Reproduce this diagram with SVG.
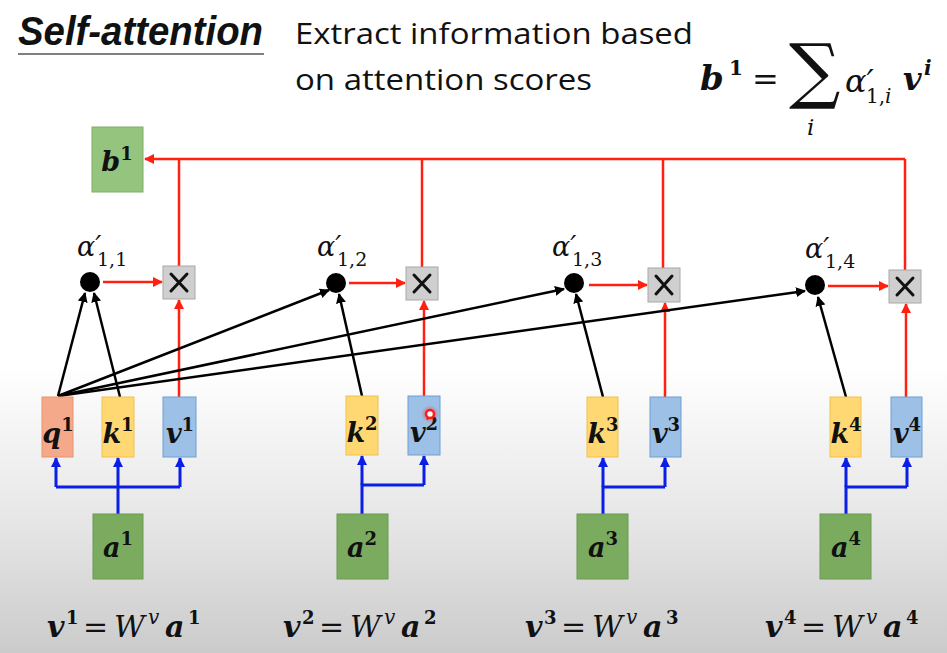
<svg xmlns="http://www.w3.org/2000/svg" width="947" height="653" viewBox="0 0 947 653">
<defs>
<linearGradient id="bg" x1="0" y1="0" x2="0" y2="1">
<stop offset="0" stop-color="#ffffff"/>
<stop offset="0.56" stop-color="#ffffff"/>
<stop offset="0.8" stop-color="#e6e6e6"/>
<stop offset="1" stop-color="#cbcbcb"/>
</linearGradient>
<marker id="ab" viewBox="0 0 10 10" refX="9" refY="5" markerWidth="10" markerHeight="10" markerUnits="userSpaceOnUse" orient="auto"><path d="M0,0 L10,5 L0,10 Z" fill="#000"/></marker>
<marker id="ar" viewBox="0 0 10 10" refX="9" refY="5" markerWidth="10" markerHeight="10" markerUnits="userSpaceOnUse" orient="auto"><path d="M0,0 L10,5 L0,10 Z" fill="#ff2010"/></marker>
<marker id="abl" viewBox="0 0 10 10" refX="9" refY="5" markerWidth="10" markerHeight="10" markerUnits="userSpaceOnUse" orient="auto"><path d="M0,0 L10,5 L0,10 Z" fill="#0a1ee6"/></marker>
<radialGradient id="glow"><stop offset="0" stop-color="#ff3030" stop-opacity="0.8"/><stop offset="1" stop-color="#ff3030" stop-opacity="0"/></radialGradient>
</defs>
<style>
.math{font-family:"DejaVu Serif","Liberation Serif",serif;fill:#111}
.bi{font-weight:bold;font-style:italic}
.it{font-style:italic}
.b{font-weight:bold}
.lbl{font-size:27px;text-anchor:middle}
.sup{font-size:18px;font-weight:bold;font-style:normal}
.q{fill:#f4a98a;stroke:#e8936a;stroke-width:1}
.k{fill:#ffd873;stroke:#f0c24a;stroke-width:1}
.v{fill:#9dc0e6;stroke:#6f9fd3;stroke-width:1}
.g1{fill:#94c47e;stroke:#7fb066;stroke-width:1}
.g2{fill:#7bab5f;stroke:#6a9a50;stroke-width:1}
.xb{fill:#cfcfcf;stroke:#a8a8a8;stroke-width:1}
.xm{stroke:#111;stroke-width:3;stroke-linecap:round}
.red{stroke:#ff2010;stroke-width:2.5;fill:none}
.blk{stroke:#000;stroke-width:2.5;fill:none}
.blu{stroke:#0a1ee6;stroke-width:3;fill:none}
.sans{font-family:"Open Sans","Liberation Sans",sans-serif;fill:#111}
.al{font-size:27px}
.sub{font-size:19px;font-style:normal}
</style>
<rect x="0" y="0" width="947" height="653" fill="url(#bg)"/>

<g id="title">
<text x="18" y="45" font-family="Liberation Sans, Arial, sans-serif" font-size="40" font-weight="bold" font-style="italic" fill="#111" textLength="245" lengthAdjust="spacingAndGlyphs">Self-attention</text>
<line x1="18" y1="54" x2="264" y2="54" stroke="#555" stroke-width="1.5"/>
</g>
<g id="subtitle">
<text class="sans" x="295" y="44" font-size="29" textLength="398" lengthAdjust="spacingAndGlyphs">Extract information based</text>
<text class="sans" x="295" y="90" font-size="29" textLength="297" lengthAdjust="spacingAndGlyphs">on attention scores</text>
</g>
<g id="formula" class="math">
<text x="700" y="90" font-size="34" class="bi">b</text>
<text x="729" y="75" font-size="20" class="b">1</text>
<text x="752" y="90" font-size="32">=</text>
<text x="789" y="95" font-size="72">∑</text>
<text x="807" y="135" font-size="23" class="it">i</text>
<text x="845" y="92" font-size="32" class="it">α′</text>
<text x="866" y="103" font-size="20">1,<tspan class="it">i</tspan></text>
<text x="903" y="90" font-size="32" class="bi">v</text>
<text x="924" y="75" font-size="20" class="bi">i</text>
</g>

<g id="connectors">
<line class="red" x1="905" y1="159" x2="145" y2="159" marker-end="url(#ar)"/>
<line class="red" x1="179" y1="266" x2="179" y2="159"/>
<line class="red" x1="422" y1="267" x2="422" y2="159"/>
<line class="red" x1="663" y1="268" x2="663" y2="159"/>
<line class="red" x1="905" y1="270" x2="905" y2="159"/>
<line class="red" x1="103" y1="282" x2="162" y2="282" marker-end="url(#ar)"/>
<line class="red" x1="349" y1="283" x2="405" y2="283" marker-end="url(#ar)"/>
<line class="red" x1="589" y1="285" x2="647" y2="285" marker-end="url(#ar)"/>
<line class="red" x1="828" y1="286" x2="888" y2="286" marker-end="url(#ar)"/>
<line class="red" x1="179" y1="397" x2="179" y2="300" marker-end="url(#ar)"/>
<line class="red" x1="424" y1="396" x2="424" y2="301" marker-end="url(#ar)"/>
<line class="red" x1="665" y1="397" x2="665" y2="303" marker-end="url(#ar)"/>
<line class="red" x1="906" y1="397" x2="906" y2="304" marker-end="url(#ar)"/>
<line class="blk" x1="58" y1="396" x2="85" y2="293" marker-end="url(#ab)"/>
<line class="blk" x1="58" y1="396" x2="329" y2="290" marker-end="url(#ab)"/>
<line class="blk" x1="58" y1="396" x2="564" y2="289" marker-end="url(#ab)"/>
<line class="blk" x1="58" y1="396" x2="805" y2="291" marker-end="url(#ab)"/>
<line class="blk" x1="120" y1="397" x2="94" y2="293" marker-end="url(#ab)"/>
<line class="blk" x1="362" y1="396" x2="339" y2="294" marker-end="url(#ab)"/>
<line class="blk" x1="603" y1="397" x2="576" y2="294" marker-end="url(#ab)"/>
<line class="blk" x1="846" y1="397" x2="818" y2="297" marker-end="url(#ab)"/>
<polyline class="blu" points="118,514 118,487"/>
<polyline class="blu" points="56,487 180,487"/>
<line class="blu" x1="56" y1="487" x2="56" y2="458" marker-end="url(#abl)"/>
<line class="blu" x1="118" y1="487" x2="118" y2="458" marker-end="url(#abl)"/>
<line class="blu" x1="180" y1="487" x2="180" y2="458" marker-end="url(#abl)"/>
<polyline class="blu" points="362,514 362,485 424,485"/>
<line class="blu" x1="362" y1="485" x2="362" y2="456" marker-end="url(#abl)"/>
<line class="blu" x1="424" y1="485" x2="424" y2="456" marker-end="url(#abl)"/>
<polyline class="blu" points="603,514 603,487 665,487"/>
<line class="blu" x1="603" y1="487" x2="603" y2="458" marker-end="url(#abl)"/>
<line class="blu" x1="665" y1="487" x2="665" y2="458" marker-end="url(#abl)"/>
<polyline class="blu" points="846,514 846,487 907,487"/>
<line class="blu" x1="846" y1="487" x2="846" y2="458" marker-end="url(#abl)"/>
<line class="blu" x1="907" y1="487" x2="907" y2="458" marker-end="url(#abl)"/>
</g>

<g id="b1"><rect class="g1" x="92" y="127" width="51" height="65"/><text class="math lbl" x="117" y="171"><tspan class="bi">b</tspan><tspan class="sup" dy="-11">1</tspan></text></g>

<g id="alpha1"><circle cx="90" cy="282" r="10" fill="#000"/><text class="math al it" x="77" y="256">α′</text><text class="math sub" x="97" y="266">1,1</text></g>
<g id="alpha2"><circle cx="336" cy="283" r="10" fill="#000"/><text class="math al it" x="317" y="256">α′</text><text class="math sub" x="337" y="266">1,2</text></g>
<g id="alpha3"><circle cx="574" cy="283" r="10" fill="#000"/><text class="math al it" x="552" y="256">α′</text><text class="math sub" x="572" y="266">1,3</text></g>
<g id="alpha4"><circle cx="815" cy="285" r="10" fill="#000"/><text class="math al it" x="805" y="258">α′</text><text class="math sub" x="825" y="268">1,4</text></g>

<g id="mul1"><rect class="xb" x="163" y="266" width="32" height="33"/><path class="xm" d="M171,274 L187,291 M187,274 L171,291"/></g>
<g id="mul2"><rect class="xb" x="406" y="267" width="32" height="33"/><path class="xm" d="M414,275 L430,292 M430,275 L414,292"/></g>
<g id="mul3"><rect class="xb" x="648" y="268" width="32" height="34"/><path class="xm" d="M656,276 L672,294 M672,276 L656,294"/></g>
<g id="mul4"><rect class="xb" x="889" y="270" width="32" height="33"/><path class="xm" d="M897,278 L913,295 M913,278 L897,295"/></g>

<g id="q1"><rect class="q" x="42" y="397" width="31" height="60"/><text class="math lbl" x="58" y="443"><tspan class="bi">q</tspan><tspan class="sup" dy="-12">1</tspan></text></g>
<g id="k1"><rect class="k" x="102" y="397" width="32" height="60"/><text class="math lbl" x="118" y="443"><tspan class="bi">k</tspan><tspan class="sup" dy="-12">1</tspan></text></g>
<g id="v1"><rect class="v" x="163" y="397" width="33" height="60"/><text class="math lbl" x="180" y="443"><tspan class="bi">v</tspan><tspan class="sup" dy="-12">1</tspan></text></g>
<g id="k2"><rect class="k" x="346" y="396" width="32" height="59"/><text class="math lbl" x="362" y="442"><tspan class="bi">k</tspan><tspan class="sup" dy="-12">2</tspan></text></g>
<g id="v2"><rect class="v" x="408" y="396" width="32" height="59"/><text class="math lbl" x="424" y="442"><tspan class="bi">v</tspan><tspan class="sup" dy="-12">2</tspan></text></g>
<g id="pointer"><circle cx="430" cy="414" r="9" fill="url(#glow)"/><circle cx="430" cy="414" r="4" fill="#fff" stroke="#ff1a1a" stroke-width="2.5"/></g>
<g id="k3"><rect class="k" x="587" y="397" width="31" height="60"/><text class="math lbl" x="603" y="443"><tspan class="bi">k</tspan><tspan class="sup" dy="-12">3</tspan></text></g>
<g id="v3"><rect class="v" x="650" y="397" width="31" height="60"/><text class="math lbl" x="666" y="443"><tspan class="bi">v</tspan><tspan class="sup" dy="-12">3</tspan></text></g>
<g id="k4"><rect class="k" x="830" y="397" width="31" height="60"/><text class="math lbl" x="846" y="443"><tspan class="bi">k</tspan><tspan class="sup" dy="-12">4</tspan></text></g>
<g id="v4"><rect class="v" x="891" y="397" width="31" height="60"/><text class="math lbl" x="907" y="443"><tspan class="bi">v</tspan><tspan class="sup" dy="-12">4</tspan></text></g>

<g id="a1"><rect class="g2" x="93" y="514" width="50" height="65"/><text class="math lbl" x="118" y="557"><tspan class="bi">a</tspan><tspan class="sup" dy="-12">1</tspan></text></g>
<g id="a2"><rect class="g2" x="337" y="514" width="51" height="65"/><text class="math lbl" x="362" y="557"><tspan class="bi">a</tspan><tspan class="sup" dy="-12">2</tspan></text></g>
<g id="a3"><rect class="g2" x="577" y="514" width="51" height="65"/><text class="math lbl" x="603" y="557"><tspan class="bi">a</tspan><tspan class="sup" dy="-12">3</tspan></text></g>
<g id="a4"><rect class="g2" x="820" y="514" width="51" height="65"/><text class="math lbl" x="846" y="557"><tspan class="bi">a</tspan><tspan class="sup" dy="-12">4</tspan></text></g>

<g id="equations" class="math" font-size="30">
<text y="637"><tspan class="bi" x="47">v</tspan><tspan class="sup" x="66" y="624">1</tspan><tspan x="83" y="637">=</tspan><tspan class="it" x="114">W</tspan><tspan class="it" font-size="20" x="148" y="624">v</tspan><tspan class="bi" x="165" y="637">a</tspan><tspan class="sup" x="188" y="624">1</tspan></text>
<text y="637"><tspan class="bi" x="283">v</tspan><tspan class="sup" x="302" y="624">2</tspan><tspan x="319" y="637">=</tspan><tspan class="it" x="350">W</tspan><tspan class="it" font-size="20" x="384" y="624">v</tspan><tspan class="bi" x="401" y="637">a</tspan><tspan class="sup" x="424" y="624">2</tspan></text>
<text y="637"><tspan class="bi" x="525">v</tspan><tspan class="sup" x="544" y="624">3</tspan><tspan x="561" y="637">=</tspan><tspan class="it" x="592">W</tspan><tspan class="it" font-size="20" x="626" y="624">v</tspan><tspan class="bi" x="643" y="637">a</tspan><tspan class="sup" x="666" y="624">3</tspan></text>
<text y="637"><tspan class="bi" x="765">v</tspan><tspan class="sup" x="784" y="624">4</tspan><tspan x="801" y="637">=</tspan><tspan class="it" x="832">W</tspan><tspan class="it" font-size="20" x="866" y="624">v</tspan><tspan class="bi" x="883" y="637">a</tspan><tspan class="sup" x="906" y="624">4</tspan></text>
</g>
</svg>
